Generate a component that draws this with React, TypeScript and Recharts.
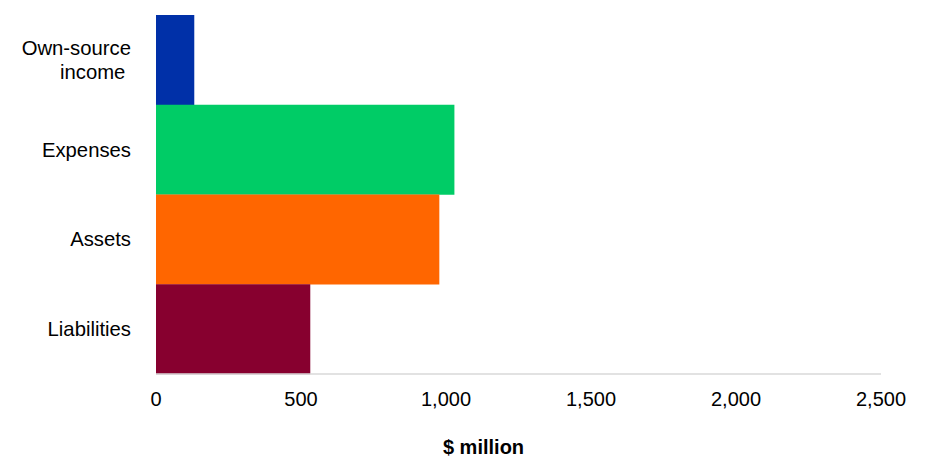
import { BarChart, Bar, XAxis, YAxis, Cell } from "recharts";

const categories = ["Own-source\nincome ", "Expenses", "Assets", "Liabilities"];
const values = [132, 1029, 977, 532];
const barColors = ["#0030A8", "#00CC66", "#FF6600", "#87002F"];
const xTicks = [0, 500, 1000, 1500, 2000, 2500];

const data = categories.map((category, i) => ({ category, value: values[i] }));

const FONT = "'Liberation Sans', Arial, sans-serif";

function CategoryTick({ x, y, payload }: any) {
    const lines = String(payload.value).split("\n");
    const lineHeight = 24;
    const startY = y - ((lines.length - 1) * lineHeight) / 2;
    return (
        <text
            x={x}
            y={startY}
            textAnchor="end"
            fontFamily={FONT}
            fontSize={20.3}
            fill="#000"
            style={{ whiteSpace: "pre" }}
        >
            {lines.map((line, i) => (
                <tspan key={i} x={x} y={startY + i * lineHeight} dy="0.35em">
                    {line}
                </tspan>
            ))}
        </text>
    );
}

function AxisTitle({ viewBox }: any) {
    const cx = viewBox.x + viewBox.width / 2 - 35;
    return (
        <text
            x={cx}
            y={viewBox.y + 73}
            dy="0.35em"
            textAnchor="middle"
            fontFamily={FONT}
            fontSize={20}
            fontWeight="bold"
            fill="#000"
        >
            $ million
        </text>
    );
}

export default function App() {
    return (
        <div style={{ position: "fixed", top: 0, left: 0, width: 929, height: 471, background: "#fff" }}>
            <BarChart
                width={929}
                height={471}
                data={data}
                layout="vertical"
                barCategoryGap={0}
                margin={{ top: 15, right: 48, left: 0, bottom: 0 }}
            >
                <XAxis
                    type="number"
                    domain={[0, 2500]}
                    ticks={xTicks}
                    interval={0}
                    tickFormatter={(v) => Number(v).toLocaleString("en-US")}
                    tick={{ fontSize: 20, fill: "#000", fontFamily: FONT }}
                    tickLine={false}
                    tickMargin={12}
                    axisLine={{ stroke: "#d9d9d9", strokeWidth: 1.5 }}
                    height={97}
                    label={<AxisTitle />}
                />
                <YAxis
                    type="category"
                    dataKey="category"
                    width={156}
                    axisLine={false}
                    tickLine={false}
                    tickMargin={19}
                    tick={<CategoryTick />}
                    interval={0}
                />
                <Bar dataKey="value" isAnimationActive={false}>
                    {data.map((_, i) => (
                        <Cell key={`cell-${i}`} fill={barColors[i]} />
                    ))}
                </Bar>
            </BarChart>
        </div>
    );
}
